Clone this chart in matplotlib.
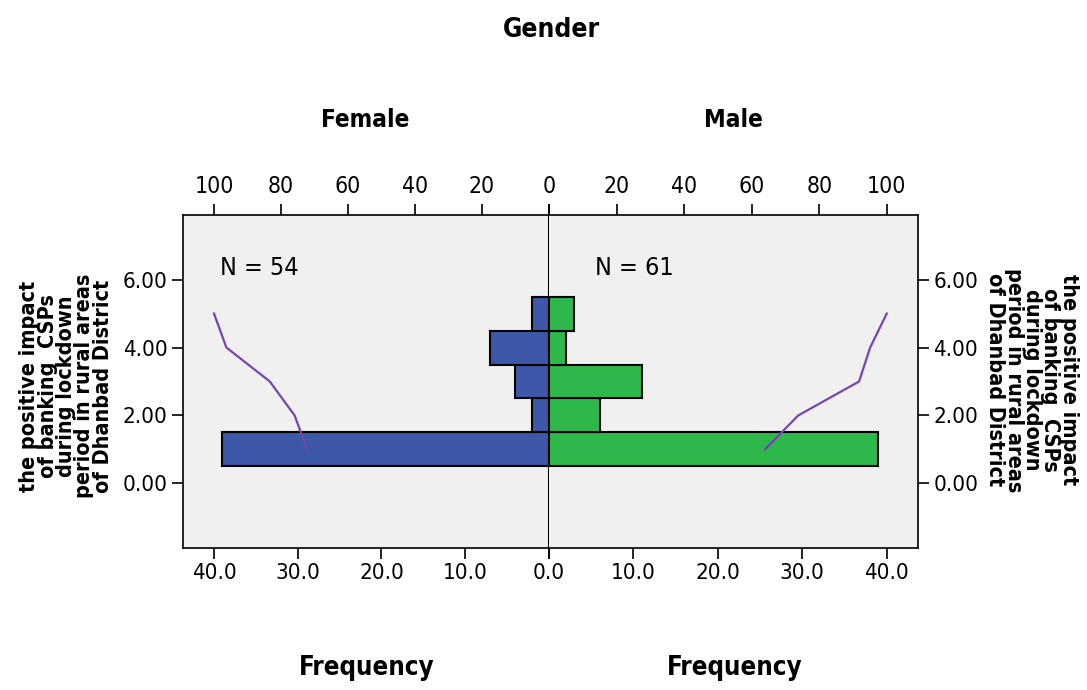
import matplotlib
matplotlib.use("Agg")
import matplotlib.pyplot as plt
import numpy as np

# data read from the pyramid
levels = [1, 2, 3, 4, 5]
female = [39, 2, 4, 7, 2]
male = [39, 6, 11, 2, 3]
ytick_vals = [0, 2, 4, 6]
freq_ticks = [0, 10, 20, 30, 40]
pct_ticks = [0, 20, 40, 60, 80, 100]
ylabel = "the positive impact\nof banking  CSPs\nduring lockdown\nperiod in rural areas\nof Dhanbad District"

# cumulative percent lines drawn over the bars
fem_cum = np.cumsum(female) / sum(female) * 100
male_cum = np.cumsum(male) / sum(male) * 100

plt.rcParams["font.family"] = ["DejaVu Sans"]
plt.rcParams["font.stretch"] = "condensed"

blue = "#3D57A9"
green = "#2EB84B"
bg = "#F0F0F0"
purple = "#7446B0"

W, H = 1087, 690
fig = plt.figure(figsize=(W / 100, H / 100), dpi=100)

def box(x0, x1, y0, y1):
    return [x0 / W, 1 - y1 / H, (x1 - x0) / W, (y1 - y0) / H]

axl = fig.add_axes(box(183, 549, 215, 548))
axr = fig.add_axes(box(549, 918, 215, 548))

fmax = 43.7
ylim = (-1.9, 7.9)

for ax, vals, col in [(axl, female, blue), (axr, male, green)]:
    ax.set_facecolor(bg)
    ax.barh(levels, vals, height=1, color=col, edgecolor="black", linewidth=1.5, zorder=2)
    ax.set_ylim(*ylim)
    ax.set_xticks(freq_ticks)
    ax.tick_params(axis="both", labelsize=16, length=8, width=1.2, pad=3)
    for s in ax.spines.values():
        s.set_linewidth(1.2)

axl.set_xlim(fmax, 0)
axr.set_xlim(0, fmax)
axl.set_xticklabels(["%.1f" % v for v in freq_ticks])
axr.set_xticklabels([""] + ["%.1f" % v for v in freq_ticks[1:]])
axl.set_yticks(ytick_vals)
axl.set_yticklabels(["%.2f" % v for v in ytick_vals])
axr.set_yticks(ytick_vals)
axr.set_yticklabels(["%.2f" % v for v in ytick_vals])
axr.yaxis.tick_right()
axr.spines["left"].set_visible(False)
axl.axvline(0, color="black", lw=1.5, zorder=3)

pmax = fmax / 40 * 100
for ax, cum, lim, labs in [(axl, fem_cum, (pmax, 0), [str(v) for v in pct_ticks]),
                           (axr, male_cum, (0, pmax), [""] + [str(v) for v in pct_ticks[1:]])]:
    tw = ax.twiny()
    tw.plot(cum, levels, color=purple, lw=1.6, zorder=4)
    tw.set_xlim(*lim)
    tw.set_ylim(*ylim)
    tw.set_xticks(pct_ticks)
    tw.set_xticklabels(labs)
    tw.tick_params(axis="x", labelsize=16.5, length=8, width=1.2, pad=4)
    for s in tw.spines.values():
        s.set_visible(False)

axl.text(0.10, 0.84, "N = 54", transform=axl.transAxes, fontsize=18, va="center", ha="left")
axr.text(0.125, 0.84, "N = 61", transform=axr.transAxes, fontsize=18, va="center", ha="left")

fig.text(551 / W, 1 - 30 / H, "Gender", fontsize=19, fontweight="bold", ha="center", va="center")
fig.text(365 / W, 1 - 120 / H, "Female", fontsize=17.5, fontweight="bold", ha="center", va="center")
fig.text(733 / W, 1 - 120 / H, "Male", fontsize=17.5, fontweight="bold", ha="center", va="center")
fig.text(367 / W, 1 - 668 / H, "Frequency", fontsize=18.5, fontweight="bold", ha="center", va="center")
fig.text(735 / W, 1 - 668 / H, "Frequency", fontsize=18.5, fontweight="bold", ha="center", va="center")

fig.text(66 / W, 1 - 386 / H, ylabel, fontsize=15.5, fontweight="bold", rotation=90,
         ha="center", va="center", linespacing=0.9, multialignment="center")
fig.text(1032 / W, 1 - 380 / H, ylabel, fontsize=15.5, fontweight="bold", rotation=-90,
         ha="center", va="center", linespacing=0.9, multialignment="center")

fig.savefig("out.png", dpi=100)
